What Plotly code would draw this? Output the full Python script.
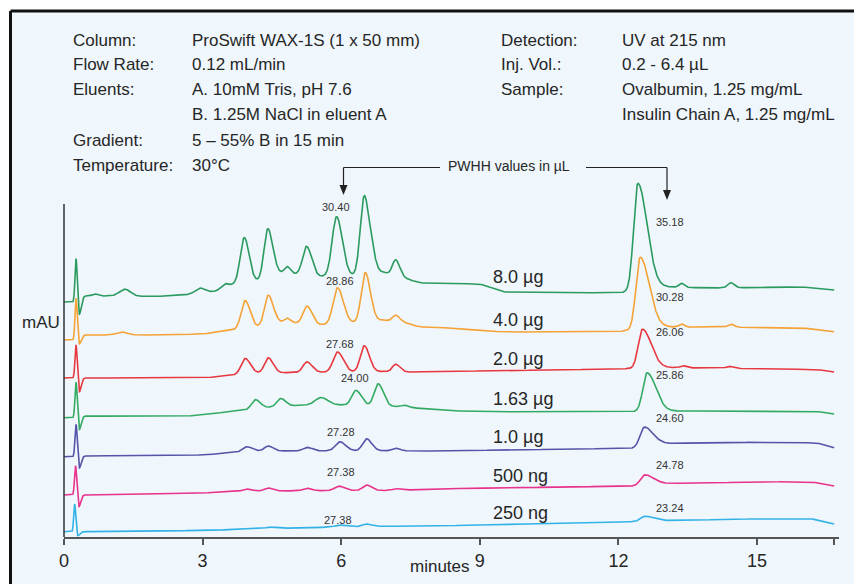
import numpy as np
import plotly.graph_objects as go

# ---------------- data ----------------
time_min = np.arange(0, 16.67 + 1e-9, 0.005)

sample_labels = ["8.0 µg", "4.0 µg", "2.0 µg", "1.63 µg", "1.0 µg", "500 ng", "250 ng"]
pwhh_ovalbumin = ["30.40", "28.86", "27.68", "24.00", "27.28", "27.38", "27.38"]
pwhh_insulin = ["35.18", "30.28", "26.06", "25.86", "24.60", "24.78", "23.24"]
x_tick_values = [0, 3, 6, 9, 12, 15, 16.67]
x_tick_labels = ["0", "3", "6", "9", "12", "15", ""]

# baselines (time, mAU) and peaks (time, height, sigma_left, sigma_right)
base_t_8 = [0, 0.2, 0.45, 1.0, 2.0, 2.6, 3.3, 3.7, 4.1, 4.6, 5.0, 5.5, 6.2, 6.9, 7.5, 7.7, 8.0, 9.0, 9.5, 12.0, 13.0, 14.0, 16.0, 16.67]
base_v_8 = [235, 235, 241, 241, 240.5, 242, 246, 253, 254, 264, 263, 260.5, 261, 265, 257, 254, 254, 253, 245, 244, 250, 249, 250, 247]
peaks_8 = [(0.26, 43, 0.022, 0.025), (0.33, -16, 0.03, 0.04), (0.67, 2, 0.05, 0.05), (1.32, 7, 0.12, 0.12),
           (2.94, 5, 0.10, 0.10), (3.48, 4, 0.08, 0.08), (3.90, 46, 0.085, 0.11), (4.41, 48, 0.08, 0.105),
           (4.83, 7, 0.06, 0.07), (5.25, 29, 0.085, 0.11), (5.90, 59.5, 0.095, 0.125), (6.50, 78.5, 0.085, 0.11),
           (6.68, 10, 0.06, 0.08), (7.18, 16, 0.07, 0.09), (12.42, 107, 0.09, 0.2), (13.37, 4, 0.06, 0.06),
           (14.44, 5, 0.07, 0.07)]

base_t_4 = [0, 0.2, 0.45, 1.0, 2.0, 3.0, 3.5, 3.8, 4.1, 4.6, 5.0, 5.5, 6.2, 6.9, 7.4, 7.7, 8.0, 9.5, 12.0, 13.0, 14.0, 16.0, 16.67]
base_v_4 = [197, 197, 202, 202, 202, 203, 206, 208, 209, 215, 214, 212, 214, 217, 214, 210, 210, 205, 205.5, 210, 210, 209, 205.3]
peaks_4 = [(0.26, 41, 0.022, 0.025), (0.33, -7, 0.03, 0.04), (1.25, 3, 0.12, 0.12), (3.92, 28, 0.085, 0.11),
           (4.42, 29, 0.08, 0.105), (4.83, 4.5, 0.06, 0.07), (5.26, 18, 0.085, 0.11), (5.92, 36, 0.095, 0.125),
           (6.52, 49, 0.085, 0.11), (7.18, 6.5, 0.07, 0.09), (12.47, 72, 0.09, 0.2), (13.37, 3, 0.06, 0.06),
           (14.44, 3, 0.07, 0.07)]

base_t_2 = [0, 0.2, 0.45, 3.0, 3.5, 4.0, 6.0, 7.0, 7.5, 9.0, 12.0, 13.0, 15.5, 16.3, 16.67]
base_v_2 = [159, 159, 159, 159, 161, 164, 165, 165.5, 165, 166, 168, 169.5, 168, 167.5, 165]
peaks_2 = [(0.26, 34, 0.022, 0.025), (0.33, -14, 0.03, 0.04), (3.92, 15, 0.085, 0.11), (4.42, 15, 0.08, 0.105),
           (5.26, 10.5, 0.085, 0.11), (5.92, 20, 0.095, 0.125), (6.50, 26, 0.085, 0.11), (7.18, 7.5, 0.07, 0.09),
           (12.52, 39, 0.09, 0.19), (13.4, 2, 0.06, 0.06), (14.4, 2, 0.07, 0.07)]

base_t_163 = [0, 0.2, 0.45, 2.5, 3.0, 3.5, 4.0, 4.5, 5.2, 6.0, 7.0, 7.6, 8.5, 10.0, 12.2, 13.0, 15.5, 16.3, 16.67]
base_v_163 = [119.3, 119.3, 121, 120.5, 122, 125, 127, 130, 132, 132, 131, 129, 126, 125, 125.3, 126, 126, 125.5, 123]
peaks_163 = [(0.26, 36, 0.022, 0.025), (0.33, -13, 0.03, 0.04), (4.14, 9.5, 0.085, 0.11), (4.69, 8, 0.08, 0.105),
             (5.56, 7.5, 0.12, 0.15), (6.32, 15, 0.09, 0.115), (6.80, 22, 0.085, 0.11), (7.37, 2, 0.07, 0.09),
             (12.62, 38.5, 0.09, 0.19)]

base_t_1 = [0, 0.2, 0.45, 3.0, 3.6, 4.0, 7.0, 8.0, 12.3, 12.9, 15.5, 16.3, 16.67]
base_v_1 = [80.3, 80.3, 81, 82, 84, 86, 86.3, 86, 88.8, 93.5, 95, 94, 89.3]
peaks_1 = [(0.26, 33, 0.022, 0.025), (0.33, -12, 0.03, 0.04), (3.95, 4.5, 0.085, 0.11), (4.42, 5, 0.08, 0.105),
           (5.26, 3.5, 0.085, 0.11), (5.97, 9, 0.095, 0.125), (6.55, 12, 0.085, 0.11), (7.18, 2.5, 0.07, 0.09),
           (12.56, 19, 0.09, 0.18)]

base_t_500 = [0, 0.2, 0.45, 3.0, 4.0, 7.0, 8.5, 12.3, 12.9, 15.5, 16.2, 16.67]
base_v_500 = [42, 42, 42, 44, 46, 46.5, 48.5, 51, 53.5, 55.3, 55, 51]
peaks_500 = [(0.25, 30, 0.022, 0.025), (0.32, -12, 0.03, 0.04), (3.95, 2, 0.085, 0.11), (4.42, 3, 0.08, 0.105),
             (5.26, 2.5, 0.085, 0.11), (5.95, 4.5, 0.095, 0.125), (6.55, 5.5, 0.085, 0.11), (7.18, 1.5, 0.07, 0.09),
             (12.57, 10, 0.09, 0.18)]

base_t_250 = [0, 0.2, 0.45, 3.0, 4.5, 6.5, 8.0, 12.3, 12.9, 15.5, 16.2, 16.67]
base_v_250 = [5.3, 5.3, 5.3, 6.5, 8.5, 10.5, 11, 15.3, 16.3, 18.7, 18, 13]
peaks_250 = [(0.23, 28, 0.02, 0.022), (0.30, -4, 0.03, 0.04), (4.45, 1.5, 0.08, 0.1), (5.95, 2, 0.095, 0.125),
             (6.55, 2.5, 0.085, 0.11), (12.57, 5, 0.09, 0.18)]

series = [
    (base_t_8, base_v_8, peaks_8, "#2b9a5e"),
    (base_t_4, base_v_4, peaks_4, "#f5a236"),
    (base_t_2, base_v_2, peaks_2, "#e8383f"),
    (base_t_163, base_v_163, peaks_163, "#33aa62"),
    (base_t_1, base_v_1, peaks_1, "#5454a8"),
    (base_t_500, base_v_500, peaks_500, "#e8328c"),
    (base_t_250, base_v_250, peaks_250, "#33b2e6"),
]


def chromatogram(bt, bv, peaks):
    y = np.interp(time_min, bt, bv)
    for t0, h, sl, sr in peaks:
        s = np.where(time_min < t0, sl, sr)
        y = y + h * np.exp(-0.5 * ((time_min - t0) / s) ** 2)
    return y


# ---------------- layout helpers ----------------
OFF = 8  # page body margin
W, H = 862, 584
L, R, T, B = 64, 839, 150, 537  # plot area in screen pixels


def px(x):
    return (x - L) / (R - L)


def py(y):
    return (B - y) / (B - T)


FONT = "Liberation Sans, Arial, Helvetica, sans-serif"
TXT = "#262626"
BG = "#eff6fc"

fig = go.Figure()
for bt, bv, pk, col in reversed(series):
    fig.add_trace(go.Scatter(x=time_min, y=chromatogram(bt, bv, pk), mode="lines",
                             line=dict(color=col, width=1.6), hoverinfo="skip", showlegend=False))

shapes = [
    dict(type="rect", xref="paper", yref="paper", x0=px(10.5), x1=px(W + 20), y0=py(11), y1=py(H + 20),
         fillcolor=BG, line=dict(width=0), layer="below"),
    dict(type="line", xref="paper", yref="paper", x0=px(10.5), x1=px(W + 20), y0=py(11), y1=py(11),
         line=dict(color="#111111", width=3)),
    dict(type="line", xref="paper", yref="paper", x0=px(10.5), x1=px(10.5), y0=py(11), y1=py(H + 20),
         line=dict(color="#111111", width=3)),
    # y axis line
    dict(type="line", xref="paper", yref="paper", x0=0, x1=0, y0=0, y1=py(204),
         line=dict(color="#333333", width=1.5)),
    # PWHH arrows
    dict(type="line", xref="paper", yref="paper", x0=px(343.5), x1=px(440), y0=py(167.5), y1=py(167.5),
         line=dict(color="#222222", width=1.2)),
    dict(type="line", xref="paper", yref="paper", x0=px(343.5), x1=px(343.5), y0=py(167.5), y1=py(188),
         line=dict(color="#222222", width=1.2)),
    dict(type="line", xref="paper", yref="paper", x0=px(586), x1=px(667), y0=py(167.5), y1=py(167.5),
         line=dict(color="#222222", width=1.2)),
    dict(type="line", xref="paper", yref="paper", x0=px(667), x1=px(667), y0=py(167.5), y1=py(193),
         line=dict(color="#222222", width=1.2)),
    dict(type="path", xref="paper", yref="paper",
         path=f"M {px(339.5)} {py(185)} L {px(347.5)} {py(185)} L {px(343.5)} {py(195)} Z",
         fillcolor="#222222", line=dict(width=0)),
    dict(type="path", xref="paper", yref="paper",
         path=f"M {px(663)} {py(190)} L {px(671)} {py(190)} L {px(667)} {py(200)} Z",
         fillcolor="#222222", line=dict(width=0)),
]

annotations = []


def text(s, x, y, size, xanchor="left", color=TXT):
    annotations.append(dict(text=s, x=px(x), y=py(y), xref="paper", yref="paper", showarrow=False,
                            xanchor=xanchor, yanchor="middle", font=dict(family=FONT, size=size, color=color)))


header_left = [("Column:", "ProSwift WAX-1S (1 x 50 mm)"), ("Flow Rate:", "0.12 mL/min"),
               ("Eluents:", "A. 10mM Tris, pH 7.6"), ("", "B. 1.25M NaCl in eluent A"),
               ("Gradient:", "5 – 55% B in 15 min"), ("Temperature:", "30°C")]
header_left_y = [40, 64.5, 89.5, 114.5, 140, 165.5]
for (a, b), y in zip(header_left, header_left_y):
    if a:
        text(a, 71, y, 17)
    text(b, 190, y, 17)

header_right = [("Detection:", "UV at 215 nm"), ("Inj. Vol.:", "0.2 - 6.4 µL"),
                ("Sample:", "Ovalbumin, 1.25 mg/mL"), ("", "Insulin Chain A, 1.25 mg/mL")]
header_right_y = [40, 65, 90, 115]
for (a, b), y in zip(header_right, header_right_y):
    if a:
        text(a, 499, y, 17)
    text(b, 620, y, 17)

text("PWHH values in µL", 446, 166, 14)
text("mAU", 41, 322.5, 17, xanchor="center")
text("minutes", 440, 566, 17, xanchor="center")

label_y = [276.7, 320, 359.3, 399.3, 436.7, 475.7, 513.3]
for s, y in zip(sample_labels, label_y):
    text(s, 491, y, 18)

ov_x = [335.7, 340, 340, 355, 340.7, 340.7, 337.7]
ov_y = [206.7, 280.7, 344.3, 378, 431.7, 472.3, 520]
for s, x, y in zip(pwhh_ovalbumin, ov_x, ov_y):
    text(s, x, y, 11, xanchor="center", color="#333333")

ins_y = [221.7, 296.7, 331.7, 375, 418.3, 465, 508.3]
for s, y in zip(pwhh_insulin, ins_y):
    text(s, 654, y, 11, color="#333333")

fig.update_layout(
    width=W, height=H,
    margin=dict(l=L - OFF, r=W - R + OFF, t=T - OFF, b=H - B + OFF, pad=0),
    paper_bgcolor="white", plot_bgcolor=BG,
    shapes=shapes, annotations=annotations,
    xaxis=dict(range=[0, (R - L) / 46.2], showgrid=False, zeroline=False, showline=True,
               linecolor="#555555", linewidth=2, ticks="outside", ticklen=6, tickwidth=1.5,
               tickcolor="#555555", tickvals=x_tick_values, ticktext=x_tick_labels,
               tickfont=dict(family=FONT, size=18, color=TXT), fixedrange=True),
    yaxis=dict(range=[0, B - T], visible=False, fixedrange=True),
)

fig.write_html("out.html")
